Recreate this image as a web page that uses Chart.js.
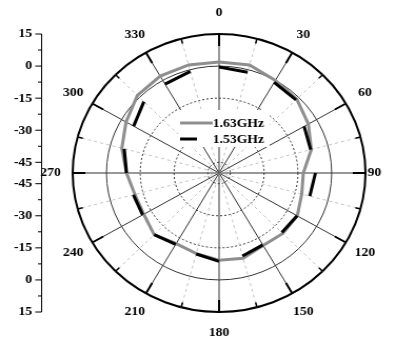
<!DOCTYPE html>
<html>
<head>
<meta charset="utf-8">
<script src="https://cdn.jsdelivr.net/npm/chart.js@4.4.1/dist/chart.umd.min.js"></script>
<style>
  html, body { margin: 0; padding: 0; background: #fff; overflow: hidden; }
  #c { display: block; }
</style>
</head>
<body>
<canvas id="c" width="376" height="341" style="width:396px;height:341px"></canvas>
<script>
// Azimuth samples (degrees), one every 15°
const angles = [0, 15, 30, 45, 60, 75, 90, 105, 120, 135, 150, 165,
                180, 195, 210, 225, 240, 255, 270, 285, 300, 315, 330, 345];
// Angles labelled around the rim
const angleTicks = [0, 30, 60, 90, 120, 150, 180, 210, 240, 270, 300, 330];
// Radial axis (dB) labels and minor ticks
const radialTicks = [15, 0, -15, -30, -45];
const radialMinorTicks = [7.5, -7.5, -22.5, -37.5];
const radialMin = -50;
const radialMax = 15;

// Measured gain (dB) at each azimuth
const seriesNames = ['1.63GHz', '1.53GHz'];
const gain163 = [1.9, 2.3, 0.0, -1.2, -4.2, -7.6, -12.6, -12.0, -9.9, -10.0, -10.9, -8.7,
                 -9.2, -11.0, -11.9, -9.2, -11.4, -11.3, -8.9, -5.3, -2.3, 1.3, 2.3, 2.3];
const gain153 = [-0.4, -1.2, -1.1, -1.7, -6.4, -7.9, -7.2, -8.3, -10.0, -10.6, -11.2, -9.8,
                 -8.7, -10.8, -11.5, -9.2, -10.8, -10.6, -8.9, -6.4, -6.2, -2.8, -2.0, -0.8];

const GRAY = '#8e8e8e';
const BLACK = '#000000';
const FONT = 'bold 13px "Liberation Serif", "Times New Roman", serif';

// The 1.53GHz trace is drawn as alternate segments: dash lengths follow the
// segment lengths computed from the radial scale.
function segmentDash(c) {
  const sc = c.chart.scales.r;
  if (!sc || !sc.drawingArea) return [];
  const pts = gain153.map((v, i) => sc.getPointPositionForValue(i, v));
  return pts.map((p, i) => {
    const q = pts[(i + 1) % pts.length];
    return Math.hypot(q.x - p.x, q.y - p.y);
  });
}

const polarDecor = {
  id: 'polarDecor',
  beforeDatasetsDraw(chart) {
    // white box behind the legend
    const ctx = chart.ctx;
    ctx.save();
    ctx.fillStyle = '#fff';
    ctx.fillRect(169, 110, 87, 37);
    ctx.restore();
  },
  afterDraw(chart) {
    const r = chart.scales.r;
    const ctx = chart.ctx;
    const R = r.drawingArea;
    ctx.save();

    // rim ticks
    ctx.strokeStyle = '#000';
    angles.forEach((deg, i) => {
      const major = deg % 30 === 0;
      const a = r.getPointPosition(i, R);
      const b = r.getPointPosition(i, R - (major ? 12 : 5));
      ctx.lineWidth = major ? 2 : 1.5;
      ctx.beginPath();
      ctx.moveTo(a.x, a.y);
      ctx.lineTo(b.x, b.y);
      ctx.stroke();
    });

    // angle labels
    ctx.font = FONT;
    ctx.fillStyle = '#000';
    ctx.textBaseline = 'middle';
    angleTicks.forEach(deg => {
      const i = angles.indexOf(deg);
      const side = deg === 90;
      const p = r.getPointPosition(i, side ? R + 2 : R + 21);
      ctx.textAlign = side ? 'left' : 'center';
      ctx.fillText(String(deg), p.x, p.y);
    });

    // mirrored radial axis on the left
    const ax = 39.5;
    const yc = r.yCenter;
    const dMax = r.getDistanceFromCenterForValue(radialMax);
    ctx.strokeStyle = '#000';
    ctx.lineWidth = 1;
    ctx.beginPath();
    ctx.moveTo(ax, yc - dMax);
    ctx.lineTo(ax, yc + dMax);
    ctx.stroke();
    ctx.textAlign = 'right';
    [-1, 1].forEach(sign => {
      radialTicks.forEach(v => {
        const y = yc + sign * r.getDistanceFromCenterForValue(v);
        ctx.beginPath();
        ctx.moveTo(ax - 6, y);
        ctx.lineTo(ax, y);
        ctx.stroke();
        ctx.fillText(String(v), ax - 9, y);
      });
      radialMinorTicks.forEach(v => {
        const y = yc + sign * r.getDistanceFromCenterForValue(v);
        ctx.beginPath();
        ctx.moveTo(ax - 3.5, y);
        ctx.lineTo(ax, y);
        ctx.stroke();
      });
    });

    // legend
    const ds = chart.data.datasets;
    ctx.textAlign = 'left';
    ctx.lineCap = 'butt';
    ctx.setLineDash([]);
    ctx.lineWidth = 3;
    ctx.strokeStyle = ds[0].borderColor;
    ctx.beginPath(); ctx.moveTo(171, 123); ctx.lineTo(202, 123); ctx.stroke();
    ctx.strokeStyle = ds[1].borderColor;
    ctx.beginPath(); ctx.moveTo(171, 139); ctx.lineTo(187, 139); ctx.stroke();
    ctx.fillStyle = '#000';
    ctx.fillText(ds[0].label, 202, 123.5);
    ctx.fillText(ds[1].label, 202, 139.5);

    ctx.restore();
  }
};

new Chart(document.getElementById('c'), {
  type: 'radar',
  data: {
    labels: angles.map(String),
    datasets: [
      {
        label: seriesNames[0],
        data: gain163,
        borderColor: GRAY,
        borderWidth: 3,
        pointRadius: 0,
        fill: false,
        order: 1
      },
      {
        label: seriesNames[1],
        data: gain153,
        borderColor: BLACK,
        borderWidth: 3,
        borderDash: segmentDash,
        pointRadius: 0,
        fill: false,
        order: 0
      }
    ]
  },
  options: {
    responsive: false,
    animation: false,
    devicePixelRatio: 1,
    layout: { padding: { left: 69, right: 29, top: 34, bottom: 29 } },
    plugins: { legend: { display: false }, tooltip: { enabled: false } },
    elements: { line: { tension: 0 } },
    scales: {
      r: {
        min: radialMin,
        max: radialMax,
        startAngle: 0,
        ticks: { display: false, stepSize: 15 },
        pointLabels: { display: false },
        grid: {
          circular: true,
          color: c => c.tick && c.tick.value === radialMax ? '#000' : '#333',
          lineWidth: c => {
            if (!c.tick || c.tick.value <= radialMin) return 0;
            return c.tick.value === radialMax ? 2 : 1;
          }
        },
        border: {
          dash: c => (c.tick && c.tick.value < 0) ? [2, 2] : []
        },
        angleLines: {
          display: true,
          color: c => c.index % 2 ? '#c4c4c4' : '#333',
          lineWidth: 1,
          borderDash: c => c.index % 2 ? [3, 3] : []
        }
      }
    }
  },
  plugins: [polarDecor]
});
</script>
</body>
</html>
